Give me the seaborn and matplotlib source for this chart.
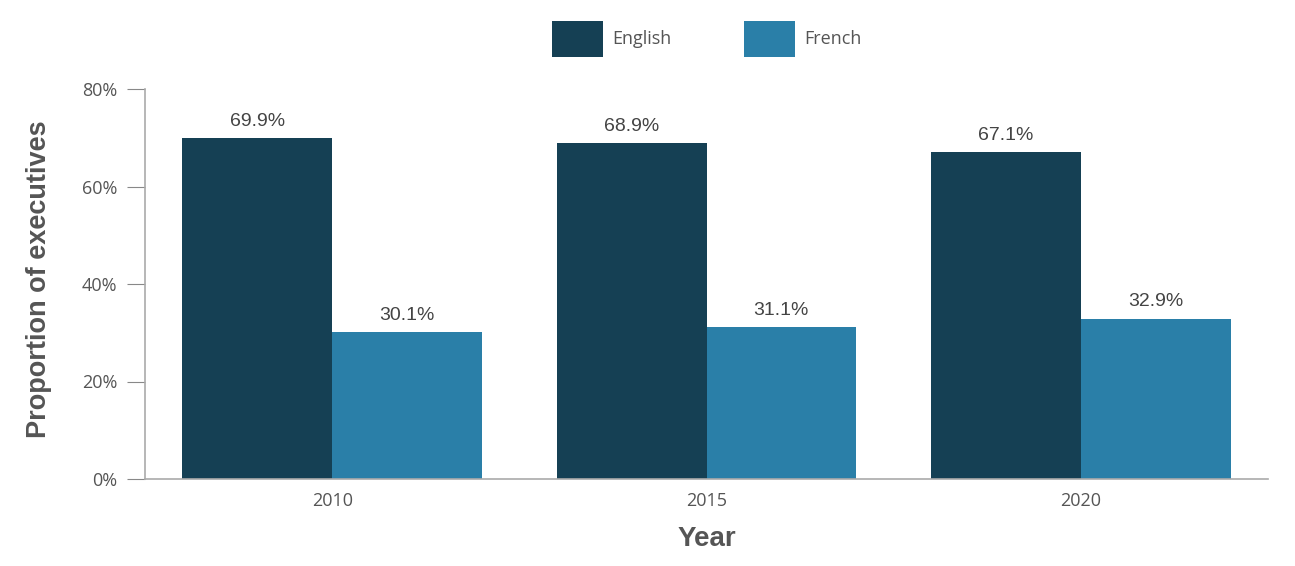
import matplotlib
matplotlib.use("Agg")
import matplotlib.pyplot as plt
import seaborn as sns
import pandas as pd
from matplotlib.patches import Patch

years = ["2010", "2015", "2020"]
languages = ["English", "French"]
english = [69.9, 68.9, 67.1]
french = [30.1, 31.1, 32.9]
yticks = [0, 20, 40, 60, 80]
colors = ["#154054", "#2a7fa8"]

df = pd.DataFrame({
    "Year": years * 2,
    "Language": ["English"] * 3 + ["French"] * 3,
    "Value": english + french,
})

sns.set_style("white")
plt.rcParams["font.family"] = ["Open Sans", "DejaVu Sans"]

fig = plt.figure(figsize=(12.95, 5.66), dpi=100)
ax = fig.add_axes([145/1295, 1-479/566, (1268-145)/1295, (479-89)/566])

sns.barplot(data=df, x="Year", y="Value", hue="Language", order=years,
            hue_order=languages, palette=colors, width=0.8, saturation=1,
            linewidth=0, edgecolor="none", ax=ax, legend=False)

for cont in ax.containers:
    ax.bar_label(cont, labels=[f"{v:.1f}%" for v in cont.datavalues],
                 padding=6, fontsize=14, color="#444444", family="Liberation Sans")

ax.set_xlim(-0.5, 2.5)
ax.set_ylim(0, 80)
ax.set_yticks(yticks)
ax.set_yticklabels([f"{t}%" for t in yticks])
ax.tick_params(axis="y", length=13, width=0.8, color="#888888", labelsize=13,
               labelcolor="#555555", pad=7, left=True)
ax.tick_params(axis="x", length=0, labelsize=13, labelcolor="#555555", pad=9)
for s in ["top", "right"]:
    ax.spines[s].set_visible(False)
for s in ["left", "bottom"]:
    ax.spines[s].set_color("#aaaaaa")
    ax.spines[s].set_linewidth(1.2)

ax.set_xlabel("Year", fontsize=20, fontweight="bold", color="#555555",
              family="Liberation Sans", labelpad=12)
ax.set_ylabel("Proportion of executives", fontsize=19.5, fontweight="bold",
              color="#555555", family="Liberation Sans")
ax.yaxis.set_label_coords(-(145 - 52) / 1123, (479 - 279) / 390)

handles = [Patch(facecolor=c, edgecolor="none") for c in colors]
leg = fig.legend(handles, languages, loc="center", bbox_to_anchor=(707/1295, 1-39/566),
                 ncol=2, frameon=False, fontsize=13, handlelength=2.8,
                 handleheight=2.75, handletextpad=0.55, columnspacing=4.0,
                 labelcolor="#555555")

fig.savefig("out.png", dpi=100)
